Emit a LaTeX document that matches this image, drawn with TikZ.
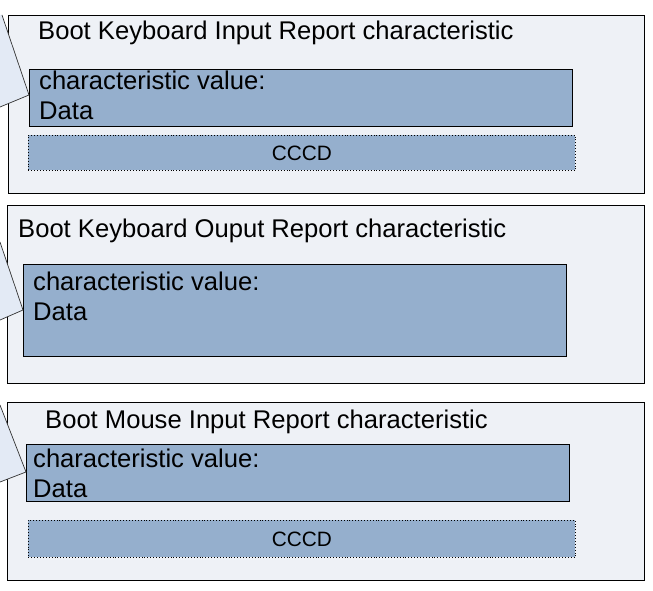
\documentclass[tikz,border=0pt]{standalone}
\usepackage{fontspec}
\setmainfont{Liberation Sans}
\definecolor{outerfill}{RGB}{238,241,246}
\definecolor{innerfill}{RGB}{149,175,205}
\definecolor{calloutfill}{RGB}{227,234,245}
\begin{document}
\begin{tikzpicture}[x=1pt,y=-1pt,
  outerbox/.style={draw=black,line width=1pt,fill=outerfill,inner sep=0pt,anchor=north west},
  valbox/.style={draw=black,line width=1.2pt,fill=innerfill,inner sep=0pt,anchor=north west},
  cccdbox/.style={draw=black,line width=0.9pt,dotted,fill=innerfill,inner sep=0pt,anchor=north west},
  callout/.style={draw=black!80,line width=0.7pt,fill=calloutfill},
  bigtext/.style={inner sep=0pt,anchor=base west,font=\fontsize{25.6}{30}\selectfont},
  smalltext/.style={inner sep=0pt,font=\fontsize{20.8}{24}\selectfont}]
\useasboundingbox (0,0) rectangle (653,591);
\fill[white] (0,0) rectangle (653,591);
% Box 1
\node[outerbox,minimum width=636,minimum height=178] (box1) at (8,15) {};
\node[valbox,minimum width=543,minimum height=57] (val1) at (29,69) {};
\node[cccdbox,minimum width=547,minimum height=35] (cccd1) at (28,135) {};
\fill[calloutfill] (0,15) -- (2,15) -- (val1.west |- 0,95) -- (0,107) -- cycle;
\draw[callout,fill=none] (2,15) -- (29,95) -- (0,107);
\node[bigtext] (title1) at (38,40) {Boot Keyboard Input Report characteristic};
\node[bigtext] (v1a) at (39,90) {characteristic value:};
\node[bigtext] (v1b) at (39,120) {Data};
\node[smalltext] (c1) at (cccd1.center) {CCCD};
% Box 2
\node[outerbox,minimum width=637,minimum height=178] (box2) at (7,205) {};
\node[valbox,minimum width=543,minimum height=92] (val2) at (23,264) {};
\draw[callout] (0,242) -- (23,310) -- (0,320);
\node[bigtext] (title2) at (18,237) {Boot Keyboard Ouput Report characteristic};
\node[bigtext] (v2a) at (33,290) {characteristic value:};
\node[bigtext] (v2b) at (33,320) {Data};
% Box 3
\node[outerbox,minimum width=637,minimum height=178] (box3) at (7,402) {};
\node[valbox,minimum width=543,minimum height=57] (val3) at (26,444) {};
\node[cccdbox,minimum width=547,minimum height=37] (cccd3) at (28,520) {};
\draw[callout] (0,405) -- (26,472) -- (0,482);
\node[bigtext] (title3) at (45,428) {Boot Mouse Input Report characteristic};
\node[bigtext] (v3a) at (33,467) {characteristic value:};
\node[bigtext] (v3b) at (33,497) {Data};
\node[smalltext] (c3) at (cccd3.center) {CCCD};
\end{tikzpicture}
\end{document}
